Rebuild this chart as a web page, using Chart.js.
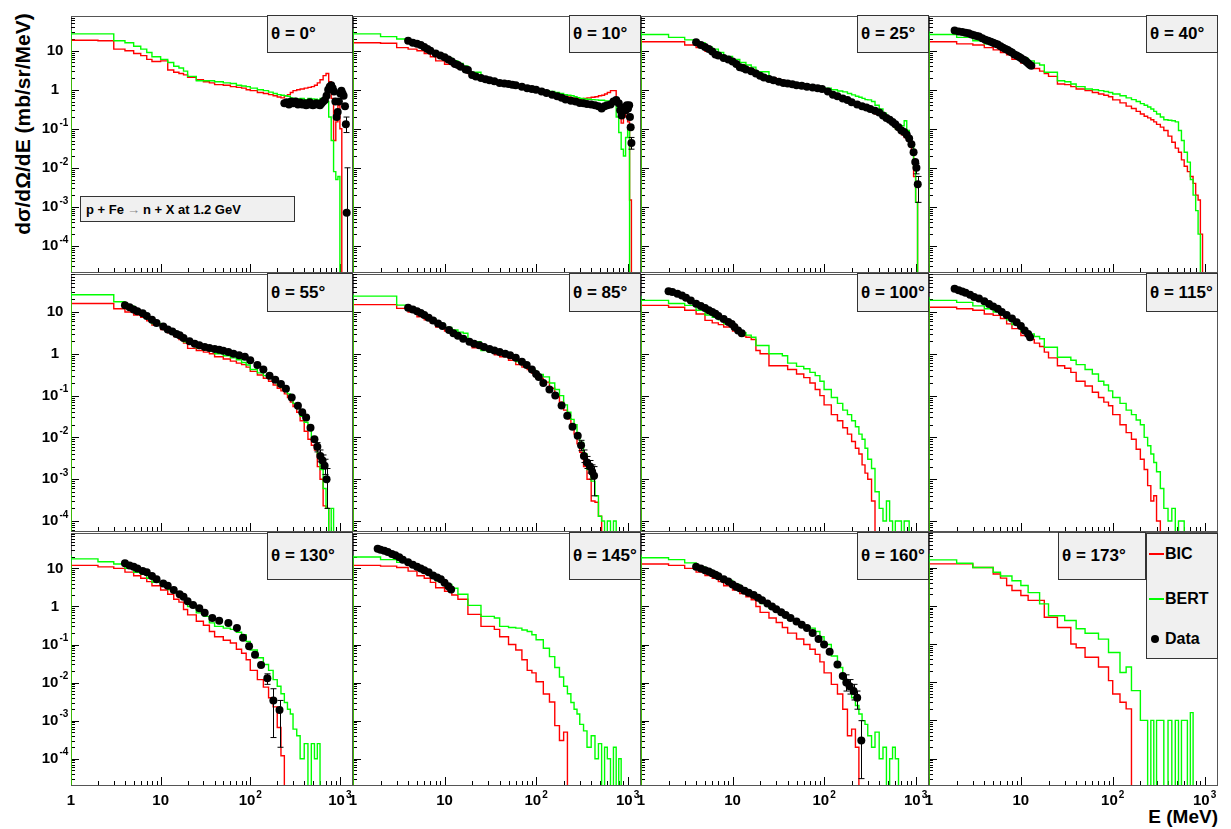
<!DOCTYPE html>
<html>
<head>
<meta charset="utf-8">
<script src="https://cdn.jsdelivr.net/npm/chart.js@4.4.1/dist/chart.umd.min.js"></script>
<style>
  body { margin: 0; background: #fff; }
  #fig { position: relative; width: 1231px; height: 829px; overflow: hidden;
         font-family: "Liberation Sans", Arial, sans-serif; font-weight: bold; color: #000; }
  #fig canvas { position: absolute; }
  .pave { position: absolute; box-sizing: border-box; background: #f0f0f0; border: 1px solid #333;
          display: flex; align-items: center; white-space: nowrap; }
  .theta { font-size: 17px; padding-left: 3px; }
  .ytitle { position: absolute; left: -107px; top: 112px; width: 260px; height: 24px; line-height: 24px;
            text-align: center; font-size: 21px; transform: rotate(-90deg); }
  .xtitle { position: absolute; right: 13px; top: 805px; font-size: 19px; line-height: 24px; }
  .leg-row { position: absolute; left: 0; font-size: 16px; line-height: 18px; }
</style>
</head>
<body>
<div id="fig">
  <div class="ytitle">dσ/dΩ/dE (mb/sr/MeV)</div>
  <div class="xtitle">E (MeV)</div>
</div>
<script>
// bin edges shared by every simulated spectrum (MeV)
const EDGES = [1,2,3,4,5,6,7,8,10,12,14,16,18,20,25,30,35,40,50,60,70,80,90,100,120,140,160,180,200,
  220,240,260,280,300,330,360,400,440,480,520,560,600,650,700,750,800,850,900,950,1000,1050,1100,1150];

const THETA = [0, 10, 25, 40, 55, 85, 100, 115, 130, 145, 160, 173];

// ---- theta = 0
const BERT_0 = [34,27,27,18,16,13,11,9,7,6, 5,4,3.6,3.0,2.2,1.7,1.7,1.7,1.6,1.5,
  1.45,1.3,1.25,1.2,1.1,1.0,0.95,0.87,0.8,0.75, 0.72,0.7,0.68,0.62,0.6,0.58,0.6,0.56,0.6,0.58,
  0.57,0.55,0.6,0.58,0.5,0.2,0.05,0.008,0.005,0.006, 0,0];
const BIC_0 = [19,18.5,18,11,10,8.5,7.5,6,5.3,5.5, 3.2,2.8,2.6,2.4,2.1,1.8,1.6,1.5,1.35,1.3,
  1.2,1.15,1.1,1.0,0.95,0.85,0.8,0.75,0.7,0.65, 0.62,0.7,0.75,0.85,0.95,1.0,1.05,1.1,1.15,1.2,
  1.3,1.5,1.8,2.3,2.6,1.6,0.6,0.05,0.15,0.4, 0.1,0];
const DATA_E_0 = [240,255,270,285,300,320,340,360,380,400,420,440,460,480,500,520,545,570,600,625,
  650,680,710,740,770,800,830,860,890,920,945,975,1010,1040,1070,1100,1140,1165,1190];
const DATA_Y_0 = [0.45,0.48,0.42,0.5,0.45,0.5,0.42,0.47,0.42,0.45,0.4,0.42,0.48,0.42,0.4,0.42,0.45,0.42,0.4,0.45,
  0.5,0.55,0.7,1.0,1.2,1.3,1.1,0.9,0.5,0.2,0.27,0.5,0.8,0.95,0.8,0.7,0.38,0.13,0.0007];
const ERR_0 = [[1190,1e-6,0.01],[1165,0.08,0.2]];

// ---- theta = 10
const BERT_10 = [35,27,23,20,17,14,12,10,8,6.5, 5.5,4.7,4.1,2.8,2.8,2.1,1.9,1.7,1.5,1.4,
  1.3,1.25,1.15,1.1,1.05,0.95,0.9,0.85,0.8,0.75, 0.72,0.7,0.66,0.63,0.6,0.58,0.57,0.56,0.55,0.54,
  0.54,0.52,0.52,0.5,0.5,0.2,0.08,0.03,0.02,0.06, 0.1,0];
const BIC_10 = [20,16,15.5,12,11,10,8.5,7,5.5,4.5, 4.2,3.5,3,2.6,2.2,1.9,1.75,1.6,1.4,1.3,
  1.2,1.1,1.05,1.0,0.92,0.85,0.8,0.75,0.7,0.68, 0.65,0.62,0.6,0.59,0.58,0.6,0.62,0.64,0.66,0.7,
  0.72,0.78,0.85,0.95,0.95,0.5,0.2,0.14,0.2,0.3, 0.15,0.0015];
const DATA_E_10 = [4,4.5,5,5.5,6,6.5,7,8,9,10,11,12,13,14,15,17,18,20,22,25,28,31,35,40,45,50,55,60,70,80,
  90,100,115,130,150,170,190,210,240,270,300,330,360,400,440,480,520,560,600,650,700,750,800,830,860,
  890,920,950,980,1010,1040,1060,1080,1100];
const DATA_Y_10 = [18,16,15,14,12.5,11,10,8.5,7.5,6.8,6,5.3,4.6,4.3,3.9,3.3,3.2,2.4,2.2,2.0,1.85,1.75,1.65,1.5,1.45,
  1.4,1.35,1.3,1.2,1.1,1.05,1.0,0.9,0.82,0.75,0.68,0.62,0.56,0.52,0.5,0.46,0.45,0.43,0.42,0.4,
  0.38,0.33,0.38,0.4,0.42,0.5,0.55,0.45,0.3,0.22,0.3,0.35,0.3,0.4,0.33,0.4,0.2,0.11,0.043];
const ERR_10 = [[1100,0.03,0.06]];

// ---- theta = 25
const BERT_25 = [33,26,22,19,16,12.5,11,9,7.1,6, 5,4.3,3.8,2.9,2.9,1.8,1.7,1.55,1.45,1.38,
  1.32,1.26,1.22,1.18,1.1,1.0,0.93,0.88,0.8,0.74, 0.68,0.64,0.6,0.56,0.55,0.5,0.4,0.32,0.25,0.2,
  0.16,0.12,0.1,0.09,0.12,0.16,0.09,0.06,0.035,0.01, 0.0013,0];
const BIC_25 = [21,17,17,14,12,9.6,8.5,7.2,6.2,5, 4.3,3.7,3.2,2.6,2.2,2.0,1.8,1.55,1.35,1.25,
  1.18,1.12,1.08,1.05,0.92,0.8,0.7,0.62,0.55,0.48, 0.42,0.38,0.36,0.32,0.3,0.27,0.24,0.22,0.2,0.17,
  0.14,0.12,0.1,0.085,0.07,0.06,0.05,0.04,0.025,0.006, 0.0013,0];
const DATA_E_25 = [4,4.5,5,5.5,6,6.5,7,8,9,10,11,12,13,14,16,18,20,22,25,28,32,36,40,45,50,57,65,75,85,95,
  110,125,140,160,180,200,230,260,290,320,360,400,440,480,520,560,600,650,700,750,800,850,900,950,990,1020,1055];
const DATA_Y_25 = [16.4,14,12.5,11,9.5,8,7.5,6.5,6,5.3,4.6,3.8,3.6,3.3,3.0,2.6,2.3,2.05,1.9,1.75,1.6,1.5,1.45,1.38,1.3,
  1.26,1.2,1.15,1.1,1.05,0.9,0.75,0.68,0.6,0.55,0.48,0.42,0.38,0.35,0.32,0.29,0.26,0.22,0.19,0.17,
  0.15,0.13,0.11,0.09,0.083,0.07,0.056,0.04,0.025,0.014,0.01,0.0038];
const ERR_25 = [[1055,0.0013,0.006],[1020,0.007,0.013]];

// ---- theta = 40
const BERT_40 = [31.6,26,22,18,15,13,11.5,9.6,8,6.4, 5.5,4.8,4.3,2.8,2.8,1.7,1.6,1.4,1.2,1.05,
  1.0,0.95,0.9,0.85,0.78,0.7,0.62,0.56,0.5,0.44, 0.4,0.36,0.32,0.28,0.24,0.2,0.17,0.165,0.16,0.15,
  0.09,0.05,0.025,0.014,0.005,0.002,0.0008,0.0002,0,0, 0,0];
const BIC_40 = [19,17,15,14,12,10.5,9,7.9,6,4.8, 4,3.5,3,2.6,2.2,1.4,1.35,1.2,1.05,0.95,
  0.85,0.78,0.72,0.66,0.55,0.46,0.38,0.33,0.28,0.24, 0.21,0.19,0.17,0.15,0.13,0.11,0.09,0.065,0.045,0.032,
  0.025,0.016,0.011,0.008,0.006,0.004,0.002,0.0015,0.0002,0, 0,0];
const DATA_E_40 = [1.9,2.1,2.3,2.5,2.7,2.9,3.1,3.3,3.5,3.8,4.1,4.4,4.7,5.0,5.3,5.6,6.0,6.4,6.8,7.2,
  7.6,8.0,8.5,9,9.5,10,10.5,11,11.5,12,12.5,13];
const DATA_Y_40 = [33,31,30,29,28,26,25,24,23,21,19,18,17,16,15,14.5,13,12,11,10.5,
  9.5,9,8,7.5,7,6.5,6,5.7,5.2,4.8,4.4,4.1];
const ERR_40 = [];

// ---- theta = 55
const BERT_55 = [31,26,26,17.6,14,10,8.5,7,5.3,4.3, 3.6,3.1,2.7,1.95,1.95,1.38,1.25,1.15,1.0,0.9,
  0.8,0.72,0.62,0.54,0.42,0.35,0.3,0.26,0.22,0.18, 0.155,0.134,0.11,0.085,0.065,0.049,0.032,0.023,0.015,0.01,
  0.0076,0.004,0.0017,0.0006,0.0002,0,0.0002,0,0,0, 0,0];
const BIC_55 = [18.3,16,16,12,10,8.5,7.5,6.2,4.9,3.8, 3.2,2.6,2.2,1.8,1.35,1.2,1.1,1.0,0.85,0.75,
  0.67,0.6,0.55,0.48,0.38,0.31,0.26,0.22,0.18,0.15, 0.13,0.11,0.09,0.07,0.055,0.04,0.025,0.014,0.009,0.0065,
  0.005,0.002,0.001,0.00023,0.0002,0,0,0,0,0, 0,0];
const DATA_E_55 = [4,4.5,5,5.5,6.3,7,8,9,10.7,12,13.5,15,16.3,18,21,24,27,31,35,40,45,50,57,65,75,
  87,100,120,140,164,190,220,250,290,340,380,420,470,520,560,605,640,675,710];
const DATA_Y_55 = [14.6,13,11.5,10.5,9.3,8,6.5,5.5,4.5,3.8,3.4,3.0,2.8,2.4,2.0,1.75,1.6,1.46,1.38,1.3,1.25,1.18,1.1,1.0,0.92,
  0.85,0.7,0.54,0.42,0.3,0.24,0.19,0.145,0.09,0.057,0.04,0.03,0.017,0.009,0.006,0.0036,0.0028,0.0021,0.001];
const ERR_55 = [[710,0.0002,0.0018],[675,0.0013,0.003],[640,0.0018,0.0038],[605,0.0026,0.005],[560,0.0045,0.0075]];

// ---- theta = 85
const BERT_85 = [26.5,24,24,14.6,12,9.3,8,6.8,5.3,4.3, 3.7,3.3,3.1,1.95,1.95,1.2,1.1,1.05,1.0,0.8,
  0.65,0.55,0.48,0.4,0.32,0.28,0.2,0.14,0.1,0.06, 0.04,0.027,0.02,0.012,0.0076,0.004,0.0017,0.0009,0.0004,0.00013,
  0.0001,0,0.0001,0,0.0001,0,0,0,0,0, 0,0];
const BIC_85 = [17.6,15,15,12.2,10,7.7,6.5,5.5,4.4,3.5, 2.9,2.4,2.2,1.7,1.4,1.25,1.1,0.95,0.85,0.7,
  0.55,0.48,0.42,0.34,0.26,0.21,0.15,0.1,0.07,0.045, 0.028,0.019,0.012,0.007,0.0044,0.002,0.001,0.0003,0.00028,0.00013,
  0,0,0,0,0,0,0,0,0,0, 0,0];
const DATA_E_85 = [4,4.5,5,5.5,6,6.7,7.5,8.5,9.5,11.2,12.5,14,16,18.7,21,24,27,31,35,40,46,52,60,70,79,
  90,100,107,120,140,162,190,219,250,285,310,333,360,388,410,430];
const DATA_Y_85 = [12.6,11.5,10.5,9.5,8.5,7.3,6.3,5.3,4.6,3.7,3.1,2.7,2.3,1.94,1.75,1.6,1.45,1.3,1.2,1.1,1.0,0.92,0.8,0.65,0.54,
  0.42,0.33,0.28,0.2,0.14,0.1,0.058,0.033,0.018,0.011,0.0065,0.0036,0.0025,0.002,0.0015,0.0012];
const ERR_85 = [[430,0.0004,0.002],[410,0.001,0.0022],[388,0.0014,0.0028],[360,0.0018,0.0035],[333,0.0025,0.005],[310,0.0048,0.0085]];

// ---- theta = 100
const BERT_100 = [24,19,16,14.4,11,8.5,7.5,6.5,5.2,4.2, 3.2,2.8,2.5,1.58,1.58,1.0,1.0,0.9,0.6,0.5,
  0.44,0.36,0.3,0.22,0.14,0.09,0.065,0.045,0.035,0.025, 0.018,0.012,0.009,0.0055,0.003,0.0018,0.0005,0.0002,0.0001,0.0003,
  0.0001,0,0.0001,0.0001,0,0.0001,0.0001,0,0,0, 0,0];
const BIC_100 = [16.5,14.4,13,11,9,6.3,5.5,5,4.4,3.5, 2.7,2.5,2.2,1.2,1.0,0.52,0.52,0.52,0.42,0.33,
  0.27,0.2,0.14,0.1,0.06,0.035,0.025,0.017,0.012,0.008, 0.0055,0.004,0.0022,0.0014,0.001,0.0003,0,0,0,0,
  0,0,0,0,0,0,0,0,0,0, 0,0];
const DATA_E_100 = [2,2.2,2.5,2.8,3.1,3.5,4,4.5,5,5.5,6,6.5,7,8,9,9.8,10.5,11.5,12.6];
const DATA_Y_100 = [31.6,30,27.5,25,22,19,15.8,14,12.5,11,10,9.1,8,6.8,5.8,5.2,4.4,3.6,3.1];
const ERR_100 = [];

// ---- theta = 115
const BERT_115 = [23,19,17,14,12,10,8.5,6.5,5,3.5, 3.0,2.6,2.3,1.44,1.44,0.83,0.83,0.7,0.55,0.42,
  0.33,0.22,0.18,0.13,0.09,0.065,0.045,0.035,0.026,0.02, 0.01,0.0063,0.004,0.0025,0.0015,0.0006,0.0002,0.0001,0.0002,0,
  0.0001,0.0001,0,0,0,0,0,0,0,0, 0,0];
const BIC_115 = [16.5,13,12,11,9,8.3,7,5.2,4,2.75, 2.2,1.8,1.5,1.1,0.8,0.52,0.45,0.36,0.22,0.17,
  0.12,0.09,0.07,0.057,0.035,0.02,0.013,0.009,0.0052,0.003, 0.0017,0.0007,0.0003,0.0004,0.0001,0,0,0,0,0,
  0,0,0,0,0,0,0,0,0,0, 0,0];
const DATA_E_115 = [1.9,2.1,2.3,2.5,2.8,3.1,3.5,4,4.5,5,5.6,6.2,7,8,9,10,11,12,12.6];
const DATA_Y_115 = [36,33,31,29,26,23,21,18,15.5,13.5,12,10,8.5,7,5.7,4.6,3.6,3.0,2.5];
const ERR_115 = [];

// ---- theta = 130
const BERT_130 = [22,17.8,15,13,10,7.9,7,5.5,4.3,3.5, 2.8,2.3,2.0,1.55,1.0,0.68,0.55,0.37,0.3,0.27,
  0.25,0.21,0.18,0.12,0.072,0.045,0.03,0.021,0.012,0.008, 0.0051,0.003,0.002,0.0015,0.0006,0.0004,0.0001,0.00025,0,0.00025,
  0.0001,0.00025,0,0,0,0,0,0,0,0, 0,0];
const BIC_130 = [15,12,11,10,8,6.4,5.5,4.5,3.5,2.7, 2.1,1.55,1.3,0.83,0.6,0.41,0.32,0.22,0.16,0.13,
  0.11,0.075,0.059,0.04,0.021,0.012,0.0076,0.004,0.0023,0.00066, 0.00012,0,0,0,0,0,0,0,0,0,
  0,0,0,0,0,0,0,0,0,0, 0,0];
const DATA_E_130 = [4,4.5,5,5.5,6.3,7,8,9,10.7,12,14,16.3,18,20,23,27,31,37.7,45,57,71,83,97,113,132,155,181,212];
const DATA_Y_130 = [13.6,12,11,10,8.5,7.9,6.3,5.2,4.0,3.5,2.7,2.1,1.8,1.38,1.1,0.9,0.68,0.5,0.42,0.37,
  0.27,0.15,0.09,0.054,0.029,0.013,0.0034,0.0019];
const ERR_130 = [[155,0.009,0.017],[181,0.00036,0.0069],[212,0.0002,0.0034]];

// ---- theta = 145
const BERT_145 = [22,20,17,14.4,12,9.6,8,6.3,4.7,3.8, 3.0,2.1,2.1,1.07,1.07,0.55,0.55,0.5,0.3,0.28,
  0.27,0.24,0.22,0.18,0.134,0.08,0.048,0.025,0.014,0.008, 0.0051,0.003,0.002,0.0015,0.0008,0.00054,0.0002,0.0004,0.0001,0.00025,
  0,0.0002,0.0001,0,0.0002,0,0.0001,0,0,0, 0,0];
const BIC_145 = [15,12,11.5,10.6,8.5,6.4,5.5,4.3,3.1,2.5, 2.0,1.55,1.55,0.62,0.62,0.3,0.3,0.25,0.16,0.1,
  0.072,0.04,0.021,0.018,0.0105,0.005,0.0031,0.00074,0.0003,0.0005, 0,0,0,0,0,0,0,0,0,0,
  0,0,0,0,0,0,0,0,0,0, 0,0];
const DATA_E_145 = [1.86,2.0,2.2,2.4,2.66,2.9,3.2,3.5,4,4.5,5,5.5,6,6.7,7.5,8.3,9.1,10,11,11.8];
const DATA_Y_145 = [33,31,29,27,24,22,19.5,17,14.4,12.5,11,10,9,7.9,6.5,5.8,5.2,4.2,3.4,2.8];
const ERR_145 = [];

// ---- theta = 160
const BERT_160 = [23,19,17,14,11,9,7.5,6,4.8,3.8, 3.1,2.6,2.3,1.7,1.2,0.9,0.75,0.6,0.45,0.36,
  0.3,0.27,0.22,0.16,0.1,0.05,0.025,0.012,0.007,0.004, 0.0025,0.0015,0.001,0.0008,0.0004,0.0002,0.0005,0.0001,0.0002,0,
  0.0001,0.0002,0.0001,0,0,0,0,0,0,0, 0,0];
const BIC_160 = [15,13,12,10,8,6.5,5.5,4.5,3.5,2.7, 2.2,1.8,1.5,1.0,0.7,0.5,0.38,0.28,0.2,0.14,
  0.1,0.075,0.055,0.035,0.018,0.009,0.005,0.002,0.0004,0.0006, 0.0002,0,0,0,0,0,0,0,0,0,
  0,0,0,0,0,0,0,0,0,0, 0,0];
const DATA_E_160 = [4,4.5,5,5.5,6,6.5,7,8,9,10,11,12,13.5,15,17,19,21,24,27,30,34,38,43,50,57,
  65,75,87,100,115,140,160,175,190,210,230,255];
const DATA_Y_160 = [11,10,9,8.3,7.5,6.8,6.2,5.2,4.5,3.8,3.3,3.0,2.6,2.3,2.0,1.7,1.45,1.2,1.0,0.85,0.7,0.6,0.5,0.4,0.33,
  0.27,0.2,0.14,0.1,0.065,0.03,0.015,0.01,0.008,0.006,0.004,0.0003];
const ERR_160 = [[175,0.006,0.016],[190,0.005,0.012],[210,0.0035,0.009],[230,0.002,0.006],[255,0.00003,0.001]];

// ---- theta = 173 (no data)
const BERT_173 = [23,15.9,13,10,10,7.5,6,6,4.5,3.4, 2.2,2.2,1.12,1.12,0.55,0.55,0.41,0.41,0.25,0.19,
  0.19,0.134,0.134,0.06,0.06,0.018,0.025,0.006,0.006,0.001, 0.001,0,0.001,0,0.001,0.001,0,0.001,0,0.001,
  0,0.001,0.001,0,0.0016,0,0,0,0,0, 0,0];
const BIC_173 = [13.8,12.5,12.5,10,10,6.8,5.3,3.4,2.5,1.85, 1.38,1.38,1.38,0.5,0.5,0.27,0.27,0.1,0.08,0.045,
  0.045,0.025,0.025,0.011,0.0049,0.003,0.002,0,0,0, 0,0,0,0,0,0,0,0,0,0,
  0,0,0,0,0,0,0,0,0,0, 0,0];

const BIC = [BIC_0, BIC_10, BIC_25, BIC_40, BIC_55, BIC_85, BIC_100, BIC_115, BIC_130, BIC_145, BIC_160, BIC_173];
const BERT = [BERT_0, BERT_10, BERT_25, BERT_40, BERT_55, BERT_85, BERT_100, BERT_115, BERT_130, BERT_145, BERT_160, BERT_173];
const DATA_E = [DATA_E_0, DATA_E_10, DATA_E_25, DATA_E_40, DATA_E_55, DATA_E_85, DATA_E_100, DATA_E_115, DATA_E_130, DATA_E_145, DATA_E_160, []];
const DATA_Y = [DATA_Y_0, DATA_Y_10, DATA_Y_25, DATA_Y_40, DATA_Y_55, DATA_Y_85, DATA_Y_100, DATA_Y_115, DATA_Y_130, DATA_Y_145, DATA_Y_160, []];
const ERRS = [ERR_0, ERR_10, ERR_25, ERR_40, ERR_55, ERR_85, ERR_100, ERR_115, ERR_130, ERR_145, ERR_160, []];

// axis ranges
const X_MIN = 1, X_MAX = 1400;
const ROW_LOG_MIN = [-4.67, -4.24, -4.69];
const ROW_LOG_MAX = [1.89, 1.91, 1.93];

// page geometry of the frames
const COL_X = [71, 353, 641, 929];
const COL_W = [282, 288, 288, 289];
const ROW_Y = [15, 273, 532];
const ROW_H = [258, 259, 253];
const BOX_X = [267, 569, 857, 1146];
const BOX_W = [86, 72, 72, 72];
const BOX_H = [38, 39, 48];

const FLOOR = 1e-9;  // empty bins fall below the frame
const FONT = '"Liberation Sans", Arial, sans-serif';

const fig = document.getElementById('fig');

const steps = vals => {
  const pts = [{ x: EDGES[0], y: FLOOR }];
  vals.forEach((v, i) => pts.push({ x: EDGES[i], y: v > 0 ? v : FLOOR }));
  pts.push({ x: EDGES[EDGES.length - 1], y: FLOOR });
  return pts;
};

// "10^n" style label, centred on cx
const powLabel = (ctx, e, cx, cy) => {
  const base = e === 0 ? '1' : '10';
  const sup = (e === 0 || e === 1) ? '' : String(e);
  ctx.textBaseline = 'middle';
  ctx.textAlign = 'left';
  ctx.font = `bold 15px ${FONT}`;
  const wb = ctx.measureText(base).width;
  ctx.font = `bold 10px ${FONT}`;
  const ws = sup ? ctx.measureText(sup).width + 1 : 0;
  const x0 = cx - (wb + ws) / 2;
  ctx.font = `bold 15px ${FONT}`;
  ctx.fillText(base, x0, cy);
  if (sup) {
    ctx.font = `bold 10px ${FONT}`;
    ctx.fillText(sup, x0 + wb + 1, cy - 6);
  }
};

const framePlugin = {
  id: 'frame',
  beforeDatasetsDraw(chart, args, opts) {
    const { ctx, chartArea: a, scales: { x, y } } = chart;
    ctx.save();
    ctx.strokeStyle = '#555';
    ctx.lineWidth = 1;
    ctx.strokeRect(a.left + 0.5, a.top + 0.5, a.right - a.left - 1, a.bottom - a.top);
    ctx.strokeStyle = '#000';
    ctx.beginPath();
    for (let d = 0; d <= 3; d++) {
      for (let m = 1; m <= 9; m++) {
        const v = m * 10 ** d;
        if (v < X_MIN || v > X_MAX) continue;
        const px = Math.round(x.getPixelForValue(v)) + 0.5;
        ctx.moveTo(px, a.bottom);
        ctx.lineTo(px, a.bottom - (m === 1 ? 8 : 4));
      }
    }
    for (let d = -5; d <= 1; d++) {
      for (let m = 1; m <= 9; m++) {
        const lv = Math.log10(m) + d;
        if (lv < opts.lmin || lv > opts.lmax) continue;
        const py = Math.round(y.getPixelForValue(m * 10 ** d)) + 0.5;
        ctx.moveTo(a.left, py);
        ctx.lineTo(a.left + (m === 1 ? 8 : 4), py);
      }
    }
    ctx.stroke();
    ctx.restore();
  },
  afterDatasetsDraw(chart, args, opts) {
    const { ctx, chartArea: a, scales: { x, y } } = chart;
    ctx.save();
    // error bars
    ctx.beginPath();
    ctx.rect(a.left, a.top, a.right - a.left, a.bottom - a.top);
    ctx.clip();
    ctx.strokeStyle = '#000';
    ctx.lineWidth = 1;
    ctx.beginPath();
    opts.err.forEach(([e, lo, hi]) => {
      const px = Math.round(x.getPixelForValue(e)) + 0.5;
      const y1 = y.getPixelForValue(lo), y2 = y.getPixelForValue(hi);
      ctx.moveTo(px, y1); ctx.lineTo(px, y2);
      ctx.moveTo(px - 3, y1); ctx.lineTo(px + 3, y1);
      ctx.moveTo(px - 3, y2); ctx.lineTo(px + 3, y2);
    });
    ctx.stroke();
    ctx.restore();

    ctx.save();
    ctx.fillStyle = '#000';
    if (opts.col === 0) {
      for (let e = -4; e <= 1; e++) powLabel(ctx, e, a.left - 16, y.getPixelForValue(10 ** e));
    }
    if (opts.row === 2) {
      for (let e = 0; e <= 3; e++) powLabel(ctx, e, x.getPixelForValue(10 ** e), a.bottom + 16);
    }
    ctx.restore();
  }
};

THETA.forEach((th, i) => {
  const col = i % 4, row = Math.floor(i / 4);
  const pad = { left: col === 0 ? 71 : 8, right: 8, top: 3, bottom: row === 2 ? 44 : 3 };
  const cv = document.createElement('canvas');
  const w = COL_W[col] + pad.left + pad.right, h = ROW_H[row] + pad.top + pad.bottom;
  cv.width = w; cv.height = h;
  cv.style.left = (COL_X[col] - pad.left) + 'px';
  cv.style.top = (ROW_Y[row] - pad.top) + 'px';
  cv.style.width = w + 'px'; cv.style.height = h + 'px';
  fig.appendChild(cv);

  const pts = DATA_E[i].map((e, k) => ({ x: e, y: DATA_Y[i][k] }));

  new Chart(cv, {
    type: 'line',
    data: {
      datasets: [
        { label: 'Data', data: pts, showLine: false, pointRadius: 4, pointBackgroundColor: '#000',
          pointBorderColor: '#000', pointBorderWidth: 0, order: 0 },
        { label: 'BERT', data: steps(BERT[i]), stepped: 'after', borderColor: '#00ff00', borderWidth: 1.4,
          pointRadius: 0, fill: false, order: 1 },
        { label: 'BIC', data: steps(BIC[i]), stepped: 'after', borderColor: '#ff0000', borderWidth: 1.4,
          pointRadius: 0, fill: false, order: 2 }
      ]
    },
    options: {
      responsive: false, animation: false, devicePixelRatio: 1, events: [],
      layout: { padding: pad },
      scales: {
        x: { type: 'logarithmic', min: X_MIN, max: X_MAX, display: false },
        y: { type: 'logarithmic', min: 10 ** ROW_LOG_MIN[row], max: 10 ** ROW_LOG_MAX[row], display: false }
      },
      plugins: {
        legend: { display: false }, tooltip: { enabled: false },
        frame: { col, row, lmin: ROW_LOG_MIN[row], lmax: ROW_LOG_MAX[row], err: ERRS[i] }
      }
    },
    plugins: [framePlugin]
  });

  // theta label box
  const box = document.createElement('div');
  box.className = 'pave theta';
  let bx = BOX_X[col], bw = BOX_W[col];
  if (th === 173) { bx = 1058; bw = 88; }
  box.style.cssText = `left:${bx}px;top:${ROW_Y[row]}px;width:${bw}px;height:${BOX_H[row]}px;`;
  box.textContent = `θ = ${th}°`;
  fig.appendChild(box);
});

// reaction label
const rx = document.createElement('div');
rx.className = 'pave';
rx.style.cssText = 'left:80px;top:196px;width:215px;height:26px;font-size:13px;padding-left:5px;';
rx.innerHTML = 'p + Fe <span style="color:#888;margin:0 3px">→</span> n + X at 1.2 GeV';
fig.appendChild(rx);

// legend
const leg = document.createElement('div');
leg.className = 'pave';
leg.style.cssText = 'left:1146px;top:533px;width:72px;height:126px;';
leg.innerHTML = `
  <div class="leg-row" style="top:11px"><span style="position:absolute;left:2px;top:8px;width:15px;height:1.5px;background:#ff0000"></span><span style="position:absolute;left:18px">BIC</span></div>
  <div class="leg-row" style="top:56px"><span style="position:absolute;left:2px;top:8px;width:15px;height:1.5px;background:#00ff00"></span><span style="position:absolute;left:18px">BERT</span></div>
  <div class="leg-row" style="top:96px"><span style="position:absolute;left:4px;top:5px;width:8px;height:8px;border-radius:50%;background:#000"></span><span style="position:absolute;left:18px">Data</span></div>`;
fig.appendChild(leg);
</script>
</body>
</html>
